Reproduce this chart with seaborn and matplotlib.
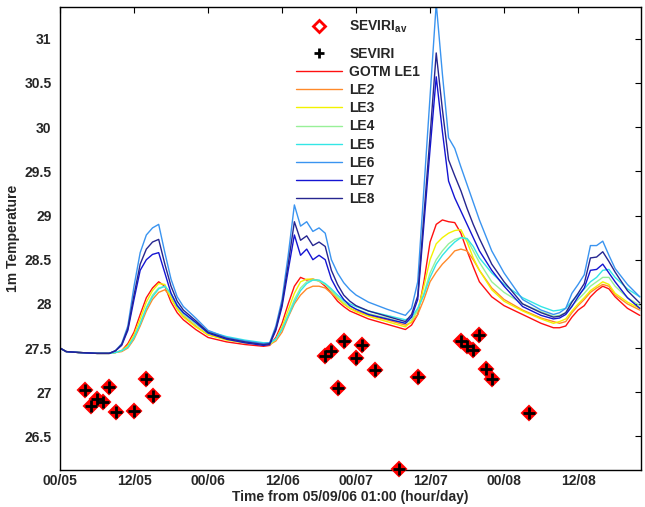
import numpy as np
import pandas as pd
import matplotlib
matplotlib.use("Agg")
import matplotlib.pyplot as plt
from matplotlib.lines import Line2D
import seaborn as sns

# Model hours since the start of the record (00/05)
hours = [0, 1, 3, 6, 8, 9, 10, 11, 12, 13, 14, 15, 16, 17, 18, 19, 20, 22, 24, 27, 30, 33,
         34, 35, 36, 37, 38, 39, 40, 41, 42, 43, 44, 45, 46, 47, 48, 50, 53, 56,
         57, 58, 59, 60, 61, 62, 63, 64, 65, 66, 67, 68, 70, 72, 75, 78, 80,
         81, 82, 83, 84, 85, 86, 87, 88, 89, 90, 92, 94]

le1 = [27.50, 27.46, 27.45, 27.44, 27.44,
       27.45, 27.47, 27.55, 27.68, 27.88, 28.07, 28.18, 28.25, 28.20, 28.02, 27.90, 27.82,
       27.71, 27.62, 27.57, 27.54, 27.52,
       27.53, 27.62, 27.78, 28.00, 28.20, 28.30, 28.27, 28.28, 28.26, 28.20, 28.12, 28.03, 27.97, 27.92, 27.89,
       27.83, 27.77, 27.71,
       27.76, 27.88, 28.25, 28.70, 28.90, 28.95, 28.93, 28.92, 28.80, 28.60, 28.42, 28.25,
       28.08, 27.98, 27.88, 27.78, 27.73,
       27.73, 27.75, 27.85, 27.93, 27.98, 28.08, 28.15, 28.20, 28.17, 28.08,
       27.95, 27.87]
le2 = [27.50, 27.46, 27.45, 27.44, 27.44,
       27.45, 27.46, 27.50, 27.60, 27.75, 27.92, 28.05, 28.13, 28.16, 28.08, 27.95, 27.86,
       27.75, 27.65, 27.60, 27.56, 27.54,
       27.54, 27.58, 27.68, 27.85, 28.00, 28.10, 28.17, 28.20, 28.20, 28.18, 28.12, 28.06, 28.00, 27.95, 27.92,
       27.87, 27.82, 27.76,
       27.79, 27.88, 28.05, 28.25, 28.36, 28.45, 28.52, 28.60, 28.62, 28.60, 28.50, 28.38,
       28.18, 28.05, 27.93, 27.84, 27.80,
       27.78, 27.80, 27.90, 27.98, 28.05, 28.13, 28.18, 28.22, 28.20, 28.10,
       28.00, 27.93]
le3 = [27.50, 27.46, 27.45, 27.44, 27.44,
       27.45, 27.47, 27.53, 27.65, 27.83, 28.02, 28.15, 28.23, 28.22, 28.06, 27.94, 27.85,
       27.74, 27.65, 27.59, 27.56, 27.54,
       27.54, 27.60, 27.74, 27.93, 28.12, 28.25, 28.28, 28.28, 28.26, 28.22, 28.15, 28.07, 28.00, 27.95, 27.91,
       27.86, 27.80, 27.74,
       27.80, 27.93, 28.20, 28.50, 28.68, 28.75, 28.80, 28.83, 28.84, 28.70, 28.52, 28.38,
       28.16, 28.03, 27.92, 27.83, 27.78,
       27.80, 27.83, 27.92, 28.00, 28.07, 28.15, 28.20, 28.25, 28.22, 28.12,
       28.02, 27.95]
le4 = [27.50, 27.46, 27.45, 27.44, 27.44,
       27.45, 27.47, 27.51, 27.62, 27.78, 27.96, 28.10, 28.18, 28.20, 28.10, 27.97, 27.88,
       27.77, 27.67, 27.62, 27.58, 27.55,
       27.55, 27.60, 27.72, 27.88, 28.05, 28.18, 28.25, 28.27, 28.26, 28.22, 28.15, 28.08, 28.02, 27.97, 27.94,
       27.89, 27.84, 27.78,
       27.82, 27.93, 28.12, 28.35, 28.50, 28.60, 28.68, 28.73, 28.75, 28.73, 28.60, 28.47,
       28.25, 28.13, 28.00, 27.91, 27.86,
       27.87, 27.90, 27.98, 28.05, 28.12, 28.20, 28.25, 28.30, 28.30, 28.20,
       28.07, 27.98]
le5 = [27.50, 27.46, 27.45, 27.44, 27.44,
       27.45, 27.47, 27.51, 27.62, 27.77, 27.95, 28.08, 28.17, 28.20, 28.12, 27.99, 27.90,
       27.79, 27.69, 27.63, 27.59, 27.56,
       27.56, 27.60, 27.71, 27.86, 28.02, 28.15, 28.23, 28.27, 28.27, 28.23, 28.17, 28.10, 28.04, 28.00, 27.97,
       27.92, 27.87, 27.82,
       27.85, 27.95, 28.10, 28.30, 28.45, 28.55, 28.63, 28.70, 28.75, 28.74, 28.65, 28.52,
       28.35, 28.22, 28.07, 27.97, 27.92,
       27.93, 27.95, 28.03, 28.10, 28.17, 28.25, 28.30, 28.38, 28.39, 28.30,
       28.17, 28.08]
le6 = [27.50, 27.46, 27.45, 27.44, 27.44,
       27.47, 27.55, 27.75, 28.20, 28.58, 28.78, 28.86, 28.90, 28.58, 28.28, 28.08, 27.97,
       27.84, 27.70, 27.62, 27.58, 27.55,
       27.56, 27.75, 28.05, 28.55, 29.12, 28.88, 28.93, 28.82, 28.86, 28.80, 28.50, 28.35, 28.24, 28.16, 28.10,
       28.02, 27.94, 27.87,
       27.95, 28.25, 29.30, 30.35, 31.40, 30.60, 29.88, 29.76, 29.55, 29.35, 29.15, 28.95,
       28.60, 28.35, 28.05, 27.93, 27.88,
       27.90, 27.95, 28.12, 28.22, 28.33, 28.66, 28.66, 28.71, 28.55, 28.40,
       28.22, 28.08]
le7 = [27.50, 27.46, 27.45, 27.44, 27.44,
       27.47, 27.53, 27.70, 28.05, 28.38, 28.50, 28.56, 28.58, 28.35, 28.12, 27.98, 27.90,
       27.79, 27.67, 27.60, 27.56, 27.53,
       27.54, 27.70, 27.97, 28.38, 28.78, 28.55, 28.62, 28.50, 28.55, 28.50, 28.28, 28.15, 28.05, 27.98, 27.94,
       27.88, 27.83, 27.78,
       27.85, 28.05, 28.90, 29.75, 30.57, 29.95, 29.39, 29.20, 29.05, 28.90, 28.75, 28.60,
       28.38, 28.20, 27.97, 27.87, 27.83,
       27.84, 27.88, 27.97, 28.08, 28.18, 28.38, 28.39, 28.45, 28.35, 28.25,
       28.07, 27.95]
le8 = [27.50, 27.46, 27.45, 27.44, 27.44,
       27.47, 27.54, 27.72, 28.10, 28.45, 28.62, 28.70, 28.73, 28.45, 28.20, 28.03, 27.93,
       27.81, 27.68, 27.61, 27.57, 27.54,
       27.55, 27.72, 28.00, 28.45, 28.93, 28.72, 28.77, 28.66, 28.70, 28.65, 28.38, 28.22, 28.10, 28.03, 27.98,
       27.92, 27.86, 27.80,
       27.88, 28.09, 29.00, 29.90, 30.84, 30.20, 29.63, 29.45, 29.28, 29.08, 28.90, 28.74,
       28.45, 28.25, 28.00, 27.90, 27.85,
       27.86, 27.90, 28.02, 28.12, 28.23, 28.52, 28.53, 28.59, 28.48, 28.36,
       28.15, 28.01]

# Satellite observations (hour, temperature)
seviri_hours = [4, 5, 6, 7, 8, 9, 12, 14, 15,
                43, 44, 45, 46, 48, 49, 51, 55, 58,
                65, 66, 67, 68, 69, 70, 76]
seviri_temp = [27.02, 26.84, 26.92, 26.89, 27.06, 26.78, 26.79, 27.15, 26.96,
               27.41, 27.47, 27.05, 27.58, 27.39, 27.53, 27.25, 26.13, 27.17,
               27.58, 27.52, 27.48, 27.65, 27.26, 27.15, 26.77]

run_names = ["GOTM LE1", "LE2", "LE3", "LE4", "LE5", "LE6", "LE7", "LE8"]
run_colors = ["#FF1010", "#FF8A2A", "#F2F200", "#98F098", "#33E6E6",
              "#3A94F0", "#1414D2", "#262690"]
tick_pos = [0, 12, 24, 36, 48, 60, 72, 84]
tick_labels = ["00/05", "12/05", "00/06", "12/06", "00/07", "12/07", "00/08", "12/08"]

sns.set_theme(style="white")
plt.rcParams["font.family"] = ["Liberation Sans", "DejaVu Sans"]
plt.rcParams["mathtext.default"] = "regular"

series = [le1, le2, le3, le4, le5, le6, le7, le8]
frames = [pd.DataFrame({"hour": hours, "temp": vals, "run": name})
          for name, vals in zip(run_names, series)]
df = pd.concat(frames, ignore_index=True)

fig = plt.figure(figsize=(6.45, 5.07), dpi=100)
ax = fig.add_axes([60 / 645, 1 - 470 / 507, 581 / 645, 463 / 507])

sns.lineplot(data=df, x="hour", y="temp", hue="run", hue_order=run_names,
             palette=dict(zip(run_names, run_colors)), linewidth=1.0,
             legend=False, ax=ax, estimator=None, sort=False)

ax.plot(seviri_hours, seviri_temp, linestyle="none", marker="D", markersize=7,
        markerfacecolor="#FF0000", markeredgecolor="#FF0000", markeredgewidth=1.5,
        clip_on=False, zorder=5)
ax.plot(seviri_hours, seviri_temp, linestyle="none", marker="+", markersize=8,
        color="black", markeredgewidth=2.0, clip_on=False, zorder=6)

ax.set_xlim(0, 94.2)
ax.set_ylim(26.12, 31.36)
ax.set_xticks(tick_pos)
ax.set_xticklabels(tick_labels)
ax.set_yticks([26.5, 27, 27.5, 28, 28.5, 29, 29.5, 30, 30.5, 31])
ax.set_yticklabels(["26.5", "27", "27.5", "28", "28.5", "29", "29.5", "30", "30.5", "31"])
ax.tick_params(direction="in", length=4, width=0.8, top=True, right=True,
               labelsize=10, color="black")
ax.tick_params(axis="x", pad=3)
ax.tick_params(axis="y", pad=6)
for lab in ax.get_xticklabels() + ax.get_yticklabels():
    lab.set_fontweight("bold")
for sp in ax.spines.values():
    sp.set_color("black")
    sp.set_linewidth(1.0)

ax.set_xlabel("Time from 05/09/06 01:00 (hour/day)", fontsize=10, fontweight="bold", labelpad=1)
ax.set_ylabel("1m Temperature", fontsize=10, fontweight="bold", labelpad=3)

# Observation entry sits on its own, above the remaining entries
obs_handle = [Line2D([], [], linestyle="none", marker="D", markersize=6,
                     markerfacecolor="white", markeredgecolor="#FF0000", markeredgewidth=2)]
leg1 = ax.legend(obs_handle, ["SEVIRI$_{av}$"], loc="upper left",
                 bbox_to_anchor=(0.39, 0.995), frameon=False, fontsize=10,
                 handlelength=3.3, handletextpad=0.5, borderpad=0.2)
for t in leg1.get_texts():
    t.set_fontweight("bold")
ax.add_artist(leg1)

handles = [Line2D([], [], linestyle="none", marker="+", markersize=7,
                  color="black", markeredgewidth=2)]
handles += [Line2D([], [], color=c, linewidth=1.0) for c in run_colors]
labels = ["SEVIRI"] + run_names
leg2 = ax.legend(handles, labels, loc="upper left", bbox_to_anchor=(0.39, 0.935),
                 frameon=False, fontsize=10, handlelength=3.3, handletextpad=0.5,
                 labelspacing=0.3, borderpad=0.2)
for t in leg2.get_texts():
    t.set_fontweight("bold")

fig.savefig("out.png", dpi=100)
